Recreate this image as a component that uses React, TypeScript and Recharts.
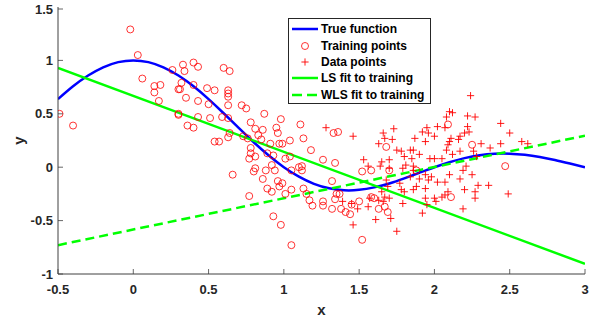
import React from 'react';
import { ComposedChart, Line, Scatter, XAxis, YAxis, Legend } from 'recharts';

const X_TICKS = [-0.5, 0, 0.5, 1, 1.5, 2, 2.5, 3];
const Y_TICKS = [-1, -0.5, 0, 0.5, 1, 1.5];
const LEGEND_LABELS = ['True function', 'Training points', 'Data points', 'LS fit to training', 'WLS fit to training'];

const TRUE_X = [-0.5, -0.4, -0.3, -0.2, -0.1, 0, 0.1, 0.2, 0.3, 0.4, 0.5, 0.6, 0.7, 0.8, 0.9, 1.0, 1.1, 1.2, 1.3, 1.4, 1.5, 1.6, 1.7, 1.8, 1.9, 2.0, 2.1, 2.2, 2.3, 2.4, 2.5, 2.6, 2.7, 2.8, 2.9, 3.0];
const TRUE_Y = [0.637, 0.757, 0.858, 0.935, 0.984, 1.0, 0.984, 0.935, 0.858, 0.757, 0.637, 0.505, 0.368, 0.234, 0.109, 0.0, -0.089, -0.156, -0.198, -0.216, -0.212, -0.189, -0.152, -0.104, -0.052, 0.0, 0.047, 0.085, 0.112, 0.126, 0.127, 0.116, 0.095, 0.067, 0.034, 0.0];

const FIT_X = [-0.5, 3];
const LS_Y = [0.93, -0.905];
const WLS_Y = [-0.73, 0.295];

const TRAINING_POINTS: [number, number][] = [
  [-0.49, 0.50], [-0.40, 0.39], [-0.02, 1.29], [0.03, 1.05], [0.06, 0.83], [0.14, 0.76], [0.18, 0.77], [0.14, 0.70],
  [0.17, 0.62], [0.26, 0.91], [0.30, 0.73], [0.30, 0.49], [0.33, 0.96], [0.40, 0.98], [0.43, 0.94], [0.34, 0.90],
  [0.60, 0.93], [0.64, 0.90], [0.32, 0.79], [0.40, 0.77], [0.31, 0.73], [0.49, 0.74], [0.54, 0.72], [0.63, 0.72],
  [0.63, 0.69], [0.35, 0.65], [0.43, 0.62], [0.50, 0.59], [0.63, 0.58], [0.72, 0.58], [0.75, 0.55], [0.87, 0.50],
  [0.30, 0.50], [0.43, 0.47], [0.51, 0.46], [0.59, 0.47], [0.63, 0.46], [0.78, 0.42], [0.98, 0.45], [0.36, 0.39],
  [0.40, 0.37], [0.81, 0.36], [0.86, 0.35], [0.64, 0.32], [0.63, 0.28], [0.73, 0.29], [0.76, 0.27], [0.83, 0.30],
  [0.85, 0.26], [0.95, 0.37], [0.96, 0.32], [0.54, 0.24], [0.57, 0.24], [0.91, 0.22], [0.97, 0.22], [0.99, 0.22],
  [1.04, 0.25], [0.78, 0.18], [0.78, 0.13], [0.77, 0.08], [0.81, 0.10], [0.89, 0.13], [0.93, 0.11], [0.92, 0.02],
  [0.94, -0.03], [0.88, -0.03], [0.81, -0.01], [0.80, -0.04], [1.01, 0.08], [1.04, 0.10], [0.66, -0.07], [0.86, -0.11],
  [0.96, -0.13], [0.99, -0.15], [0.97, -0.18], [0.89, -0.20], [0.92, -0.23], [1.05, -0.21], [1.01, -0.25], [0.77, -0.27],
  [0.93, -0.46], [0.98, -0.54], [1.05, -0.73], [1.11, 0.40], [1.13, 0.27], [1.33, 0.32], [1.36, 0.33], [1.18, 0.16],
  [1.26, 0.07], [1.34, 0.04], [1.12, 0.01], [1.68, 0.19], [1.05, -0.03], [1.12, -0.03], [1.10, 0.00], [1.32, -0.13],
  [1.13, -0.20], [1.15, -0.25], [1.17, -0.31], [1.19, -0.36], [1.26, -0.32], [1.26, -0.36], [1.35, -0.25], [1.37, -0.25],
  [1.34, -0.30], [1.32, -0.39], [1.38, -0.39], [1.41, -0.42], [1.44, -0.44], [1.45, -0.35], [1.50, -0.32], [1.52, -0.04],
  [1.58, -0.03], [1.58, -0.28], [1.60, -0.29], [1.63, -0.39], [1.67, -0.37], [1.69, -0.42], [1.52, -0.68], [1.70, -0.03],
  [2.09, 0.40], [2.25, 0.21], [2.47, 0.01], [2.11, -0.28], [1.88, -0.03], [0.63, 0.66],
];

const DATA_POINTS: [number, number][] = [
  [1.28, 0.37], [1.46, 0.29], [1.66, 0.32], [1.73, 0.36], [1.67, 0.27], [1.72, 0.26], [1.63, 0.22], [1.75, 0.16],
  [1.78, 0.15], [1.84, 0.16], [1.80, 0.10], [1.85, 0.08], [1.53, 0.07], [1.65, 0.05], [1.70, 0.07], [1.81, 0.02],
  [1.86, 0.01], [1.39, -0.32], [1.45, -0.34], [1.49, -0.39], [1.56, -0.37], [1.57, -0.29], [1.63, -0.31], [1.66, -0.32],
  [1.70, -0.29], [1.46, -0.54], [1.61, -0.49], [1.71, -0.48], [1.75, -0.60], [1.77, -0.15], [1.78, -0.21], [1.80, -0.23],
  [1.79, -0.34], [1.65, -0.23], [1.67, -0.28], [1.79, -0.01], [1.70, -0.01], [1.64, 0.01], [1.56, 0.01], [1.68, -0.12],
  [1.69, -0.18], [2.24, 0.67], [2.10, 0.52], [2.12, 0.51], [2.08, 0.47], [2.22, 0.48], [2.27, 0.47], [2.44, 0.41],
  [2.50, 0.32], [2.02, 0.38], [2.07, 0.37], [1.95, 0.37], [1.96, 0.32], [1.92, 0.33], [1.87, 0.27], [1.94, 0.24],
  [2.00, 0.29], [2.22, 0.38], [2.23, 0.33], [2.20, 0.32], [2.17, 0.29], [2.16, 0.26], [2.10, 0.24], [2.09, 0.21],
  [2.08, 0.16], [2.11, 0.27], [2.31, 0.22], [2.37, 0.18], [2.44, 0.22], [2.58, 0.24], [2.62, 0.22], [1.86, 0.16],
  [1.90, 0.12], [1.97, 0.08], [2.00, 0.08], [2.05, 0.08], [2.12, 0.12], [2.17, 0.15], [2.26, 0.15], [2.28, 0.10],
  [2.21, 0.01], [2.19, -0.03], [2.25, -0.07], [2.17, -0.11], [2.10, -0.07], [2.07, -0.14], [2.02, -0.14], [1.98, -0.09],
  [1.94, -0.07], [1.96, -0.12], [1.90, -0.11], [1.86, -0.03], [1.84, -0.09], [2.29, -0.17], [2.36, -0.17], [1.88, -0.18],
  [1.94, -0.20], [1.86, -0.21], [2.07, -0.26], [2.05, -0.28], [2.09, -0.23], [2.20, -0.21], [2.27, -0.23], [2.27, -0.29],
  [2.49, -0.25], [2.00, -0.29], [2.01, -0.32], [1.94, -0.29], [1.95, -0.35], [2.19, -0.39], [1.92, -0.43],
];

const trueData = TRUE_X.map((x, i) => ({ x, y: TRUE_Y[i] }));
const lsData = FIT_X.map((x, i) => ({ x, y: LS_Y[i] }));
const wlsData = FIT_X.map((x, i) => ({ x, y: WLS_Y[i] }));
const trainingData = TRAINING_POINTS.map(([x, y]) => ({ x, y }));
const dataData = DATA_POINTS.map(([x, y]) => ({ x, y }));

const FONT = '"Liberation Sans", Arial, Helvetica, sans-serif';
const TXT = '#262626';
const AX = '#404040';
const BLUE = '#0000ff';
const RED = '#ff0000';
const GREEN = '#00ff00';
const DASH = '9 5';

const BottomTick = (p: any) => (
  <g>
    <line x1={p.x} x2={p.x} y1={p.y} y2={p.y - 5} stroke={AX} strokeWidth={0.8} />
    <text x={p.x} y={p.y + 19.5} textAnchor="middle" fontFamily={FONT} fontWeight="bold" fontSize={13} fill={TXT}>
      {String(p.payload.value)}
    </text>
  </g>
);
const TopTick = (p: any) => (
  <line x1={p.x} x2={p.x} y1={p.y} y2={p.y + 5} stroke={AX} strokeWidth={0.8} />
);
const LeftTick = (p: any) => (
  <g>
    <line x1={p.x} x2={p.x + 5} y1={p.y} y2={p.y} stroke={AX} strokeWidth={0.8} />
    <text x={p.x - 5} y={p.y + 4.6} textAnchor="end" fontFamily={FONT} fontWeight="bold" fontSize={13} fill={TXT}>
      {String(p.payload.value)}
    </text>
  </g>
);
const RightTick = (p: any) => (
  <line x1={p.x} x2={p.x - 5} y1={p.y} y2={p.y} stroke={AX} strokeWidth={0.8} />
);

const CircleShape = (p: any) =>
  p.cx == null ? <g /> : <circle cx={p.cx} cy={p.cy} r={3.5} fill="none" stroke={RED} strokeWidth={0.8} />;
const PlusShape = (p: any) =>
  p.cx == null ? <g /> : (
    <path d={`M${p.cx - 3.6},${p.cy}H${p.cx + 3.6}M${p.cx},${p.cy - 3.6}V${p.cy + 3.6}`} stroke={RED} strokeWidth={0.9} fill="none" />
  );

const sample = (i: number) => {
  switch (i) {
    case 0:
      return <line x1={3} x2={29} y1={8} y2={8} stroke={BLUE} strokeWidth={2.5} />;
    case 1:
      return <circle cx={16} cy={8} r={3.5} fill="none" stroke={RED} strokeWidth={0.8} />;
    case 2:
      return <path d="M12.4,8H19.6M16,4.4V11.6" stroke={RED} strokeWidth={0.9} />;
    case 3:
      return <line x1={3} x2={29} y1={8} y2={8} stroke={GREEN} strokeWidth={2.5} />;
    default:
      return <line x1={3} x2={29} y1={8} y2={8} stroke={GREEN} strokeWidth={2.5} strokeDasharray="10 5" />;
  }
};

const LegendBox = () => (
  <div
    style={{
      border: '1px solid #262626',
      background: '#fff',
      width: 143,
      height: 86,
      boxSizing: 'border-box',
      paddingTop: 2,
      fontFamily: FONT,
      fontWeight: 'bold',
      fontSize: 12,
      color: '#000',
    }}
  >
    {LEGEND_LABELS.map((label, i) => (
      <div key={label} style={{ height: 16.4, display: 'flex', alignItems: 'center', whiteSpace: 'nowrap' }}>
        <svg width={32} height={16} style={{ flex: 'none' }}>
          {sample(i)}
        </svg>
        <span>{label}</span>
      </div>
    ))}
  </div>
);

export default function App() {
  return (
    <div style={{ position: 'absolute', left: 0, top: 0, width: 599, height: 320, background: '#fff' }}>
      <ComposedChart width={599} height={320} margin={{ top: 7, right: 14, bottom: 0, left: 8 }}>
        <XAxis
          xAxisId="b"
          dataKey="x"
          type="number"
          orientation="bottom"
          domain={[-0.5, 3]}
          ticks={X_TICKS}
          allowDataOverflow
          height={46}
          tickSize={0}
          tickMargin={0}
          tickLine={false}
          tick={(p: any) => <BottomTick {...p} />}
          axisLine={{ stroke: AX, strokeWidth: 1 }}
          label={{ value: 'x', position: 'insideBottom', offset: 5, fill: TXT, fontSize: 15, fontWeight: 'bold', fontFamily: FONT }}
        />
        <XAxis
          xAxisId="t"
          dataKey="x"
          type="number"
          orientation="top"
          domain={[-0.5, 3]}
          ticks={X_TICKS}
          allowDataOverflow
          height={0}
          tickSize={0}
          tickMargin={0}
          tickLine={false}
          tick={(p: any) => <TopTick {...p} />}
          axisLine={{ stroke: AX, strokeWidth: 1 }}
        />
        <YAxis
          yAxisId="l"
          dataKey="y"
          type="number"
          domain={[-1, 1.5]}
          ticks={Y_TICKS}
          allowDataOverflow
          width={50}
          tickSize={0}
          tickMargin={0}
          tickLine={false}
          tick={(p: any) => <LeftTick {...p} />}
          axisLine={{ stroke: AX, strokeWidth: 1 }}
          label={{
            content: (props: any) => {
              const vb = props.viewBox || { x: 8, y: 7, width: 50, height: 267 };
              return (
                <text
                  transform={`translate(${vb.x + 15.5},${vb.y + vb.height / 2}) rotate(-90)`}
                  textAnchor="middle"
                  fontFamily={FONT}
                  fontWeight="bold"
                  fontSize={15}
                  fill={TXT}
                >
                  y
                </text>
              );
            },
          }}
        />
        <YAxis
          yAxisId="r"
          dataKey="y"
          type="number"
          orientation="right"
          domain={[-1, 1.5]}
          ticks={Y_TICKS}
          allowDataOverflow
          width={0}
          tickSize={0}
          tickMargin={0}
          tickLine={false}
          tick={(p: any) => <RightTick {...p} />}
          axisLine={{ stroke: AX, strokeWidth: 1 }}
        />
        <Line
          xAxisId="b"
          yAxisId="l"
          data={trueData}
          dataKey="y"
          type="natural"
          stroke={BLUE}
          strokeWidth={2.5}
          dot={false}
          activeDot={false}
          isAnimationActive={false}
        />
        <Scatter xAxisId="b" yAxisId="l" data={trainingData} dataKey="y" shape={CircleShape} isAnimationActive={false} />
        <Scatter xAxisId="b" yAxisId="l" data={dataData} dataKey="y" shape={PlusShape} isAnimationActive={false} />
        <Line
          xAxisId="b"
          yAxisId="l"
          data={lsData}
          dataKey="y"
          type="linear"
          stroke={GREEN}
          strokeWidth={2.5}
          dot={false}
          activeDot={false}
          isAnimationActive={false}
        />
        <Line
          xAxisId="b"
          yAxisId="l"
          data={wlsData}
          dataKey="y"
          type="linear"
          stroke={GREEN}
          strokeWidth={2.5}
          strokeDasharray={DASH}
          dot={false}
          activeDot={false}
          isAnimationActive={false}
        />
        <Legend
          layout="vertical"
          align="center"
          verticalAlign="middle"
          wrapperStyle={{ left: 288, top: 18, width: 143, height: 86 }}
          content={() => <LegendBox />}
        />
      </ComposedChart>
    </div>
  );
}
